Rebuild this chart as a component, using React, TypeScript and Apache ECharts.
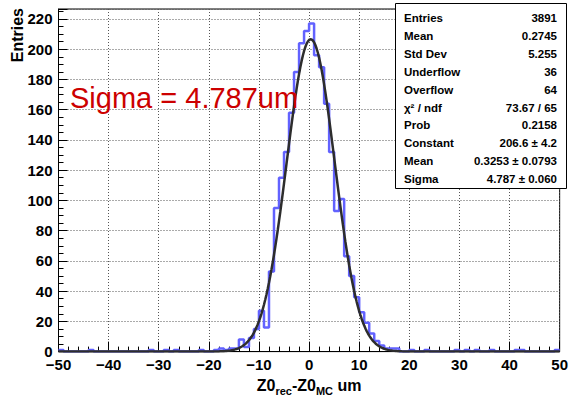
import { useEffect, useRef } from "react";
import * as echarts from "echarts";

// Histogram of Z0(rec) - Z0(MC), 100 bins of 1 um from -50 to 50
const binLow = -50;
const binWidth = 1;
const binCounts: number[] = [
  1, 0, 0, 0, 0, 0, 1, 0, 0, 0, // -50 .. -41
  0, 0, 0, 0, 0, 0, 0, 0, 1, 0, // -40 .. -31
  0, 1, 0, 1, 0, 0, 0, 0, 1, 0, // -30 .. -21
  0, 1, 2, 1, 2, 2, 8, 3, 9, 15, // -20 .. -11
  27, 16, 53, 95, 115, 132, 158, 185, 204, 212, // -10 .. -1
  217, 196, 188, 164, 132, 93, 101, 63, 50, 36, // 0 .. 9
  26, 19, 12, 7, 4, 2, 2, 2, 0, 0, // 10 .. 19
  1, 0, 0, 1, 0, 0, 0, 0, 0, 1, // 20 .. 29
  0, 1, 0, 1, 0, 0, 1, 0, 0, 0, // 30 .. 39
  0, 1, 1, 0, 0, 0, 0, 0, 0, 1, // 40 .. 49
];

// Gaussian fit parameters
const fitConstant = 206.6;
const fitMean = 0.3253;
const fitSigma = 4.787;

// Statistics box
const statNames = [
  "Entries",
  "Mean",
  "Std Dev",
  "Underflow",
  "Overflow",
  "χ² / ndf",
  "Prob",
  "Constant",
  "Mean",
  "Sigma",
];
const statValues = [
  "3891",
  "0.2745",
  "5.255",
  "36",
  "64",
  "73.67 / 65",
  "0.2158",
  "206.6 ± 4.2",
  "0.3253 ± 0.0793",
  "4.787 ± 0.060",
];

const xMin = -50;
const xMax = 50;
const yMax = 226.6;

const FONT = "'Liberation Sans', Arial, Helvetica, sans-serif";

function buildOption() {
  const stepData: number[][] = binCounts.map((c, i) => [binLow + i * binWidth, c]);
  stepData.push([binLow + binCounts.length * binWidth, binCounts[binCounts.length - 1]]);

  const fitData: number[][] = [];
  for (let i = 0; i <= 400; i++) {
    const x = xMin + (i * (xMax - xMin)) / 400;
    const d = (x - fitMean) / fitSigma;
    fitData.push([x, fitConstant * Math.exp(-0.5 * d * d)]);
  }

  const rowTop = 18.3;
  const rowStep = 17.86;
  const statTexts: any[] = [];
  statNames.forEach((n, i) => {
    statTexts.push({
      type: "text",
      x: 404,
      y: rowTop + i * rowStep,
      style: {
        text: n,
        font: `bold 11.5px ${FONT}`,
        fill: "#000",
        align: "left",
        verticalAlign: "middle",
      },
      z: 101,
    });
    statTexts.push({
      type: "text",
      x: 557,
      y: rowTop + i * rowStep,
      style: {
        text: statValues[i],
        font: `bold 11.5px ${FONT}`,
        fill: "#000",
        align: "right",
        verticalAlign: "middle",
      },
      z: 101,
    });
  });

  return {
    animation: false,
    backgroundColor: "#ffffff",
    grid: {
      left: 58.5,
      right: 5.5,
      top: 9,
      bottom: 45.3,
      show: true,
      borderColor: "#000",
      borderWidth: 1,
      backgroundColor: "transparent",
    },
    xAxis: {
      type: "value",
      min: xMin,
      max: xMax,
      interval: 10,
      axisLine: { show: true, onZero: false, lineStyle: { color: "#000", width: 1 } },
      axisTick: { show: true, inside: true, length: 10, lineStyle: { color: "#000", width: 1 } },
      minorTick: { show: true, splitNumber: 5, length: 5, lineStyle: { color: "#000", width: 1 } },
      splitLine: { show: true, lineStyle: { color: "#555", width: 1, type: [1, 2] } },
      axisLabel: {
        show: true,
        margin: 7,
        lineHeight: 12,
        fontFamily: FONT,
        fontWeight: "bold",
        fontSize: 15,
        color: "#000",
        showMinLabel: true,
        showMaxLabel: true,
        formatter: (v: number) => (v < 0 ? "\u2212" + Math.abs(v) : String(v)),
      },
      name: "{m|Z0}{s|rec}{m|-Z0}{s|MC}{m| um}",
      nameLocation: "middle",
      nameGap: 21,
      nameTextStyle: {
        rich: {
          m: {
            fontFamily: FONT,
            fontWeight: "bold",
            fontSize: 16,
            lineHeight: 20,
            verticalAlign: "top",
            color: "#000",
          },
          s: {
            fontFamily: FONT,
            fontWeight: "bold",
            fontSize: 11,
            lineHeight: 14,
            padding: [8, 0, 0, 0],
            verticalAlign: "top",
            color: "#000",
          },
        },
      },
    },
    yAxis: {
      type: "value",
      min: 0,
      max: yMax,
      interval: 20,
      axisLine: { show: true, onZero: false, lineStyle: { color: "#000", width: 1 } },
      axisTick: { show: true, inside: true, length: 9, lineStyle: { color: "#000", width: 1 } },
      minorTick: { show: true, splitNumber: 4, length: 5, lineStyle: { color: "#000", width: 1 } },
      splitLine: { show: true, lineStyle: { color: "#555", width: 1, type: [1, 2] } },
      axisLabel: {
        show: true,
        margin: 6,
        lineHeight: 12,
        fontFamily: FONT,
        fontWeight: "bold",
        fontSize: 15,
        color: "#000",
        formatter: (v: number) => (Math.abs(v % 20) < 1e-9 ? String(v) : ""),
      },
    },
    series: [
      {
        type: "line",
        data: stepData,
        step: "end",
        symbol: "none",
        lineStyle: { color: "#6262ff", width: 2.5 },
        z: 3,
      },
      {
        type: "line",
        data: fitData,
        symbol: "none",
        lineStyle: { color: "#2d2d2d", width: 2.5 },
        z: 4,
      },
    ],
    graphic: [
      {
        type: "text",
        x: 17,
        y: 8,
        rotation: Math.PI / 2,
        style: {
          text: "Entries",
          font: `bold 16px ${FONT}`,
          fill: "#000",
          align: "right",
          verticalAlign: "middle",
        },
      },
      {
        type: "text",
        x: 70,
        y: 97.5,
        style: {
          text: `Sigma = ${fitSigma}um`,
          font: `29px ${FONT}`,
          fill: "#cc0000",
          align: "left",
          verticalAlign: "middle",
        },
        z: 100,
      },
      {
        type: "rect",
        shape: { x: 395.5, y: 3.5, width: 171, height: 185 },
        style: { fill: "#fff", stroke: "#000", lineWidth: 1 },
        z: 100,
      },
      ...statTexts,
    ],
  };
}

export default function App() {
  const ref = useRef<HTMLDivElement>(null);
  useEffect(() => {
    if (!ref.current) return;
    const chart = echarts.init(ref.current, undefined, { renderer: "svg" });
    chart.setOption(buildOption() as any);
    return () => chart.dispose();
  }, []);
  return (
    <div
      ref={ref}
      style={{ position: "absolute", left: 0, top: 0, width: 571, height: 401, background: "#fff" }}
    />
  );
}
